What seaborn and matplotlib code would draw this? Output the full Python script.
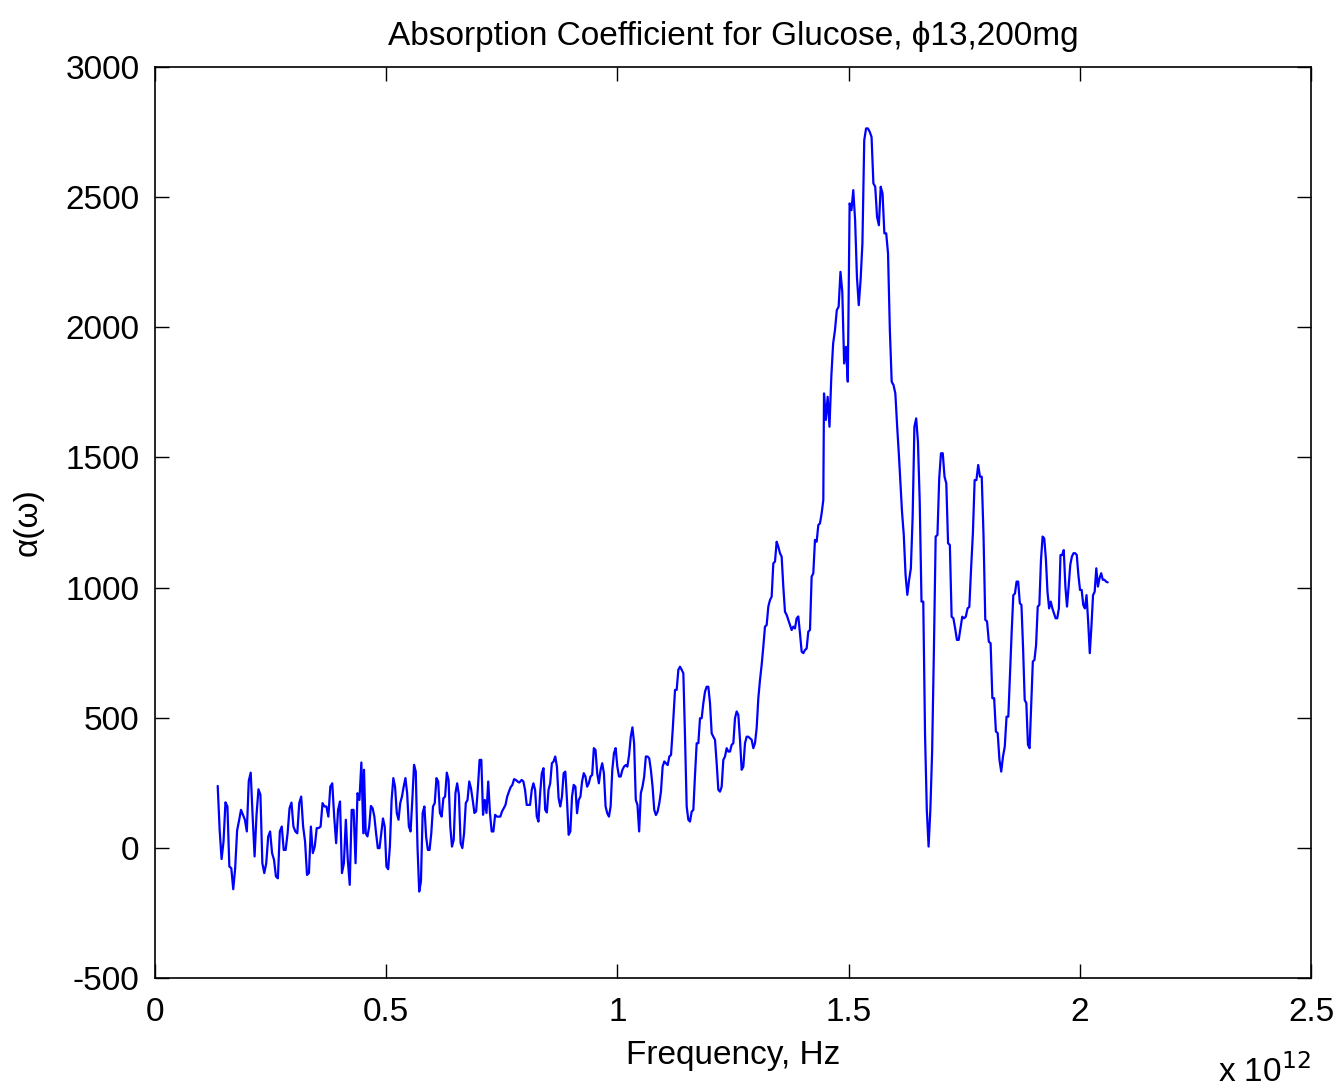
import numpy as np
import pandas as pd
import matplotlib
matplotlib.use("Agg")
import matplotlib.pyplot as plt
import seaborn as sns
from matplotlib import font_manager

# ---- data (frequency in units of 1e12 Hz, alpha values) ----
seg1_range = (0.1356, 0.4505)
seg1_vals = [238, 69, -43, 24, 175, 159, -72, -78, -159, -78, 67, 105, 146, 127, 108, 63,
             257, 289, 120, -33, 127, 225, 204, -59, -97, -59, 43, 63, -20, -46, -110, -117,
             63, 82, -8, -8, 56, 152, 174, 82, 63, 56, 172, 197, 82, 24, -104, -97, 82, -20,
             5, 76, 76, 82, 172, 159, 159, 120, 235, 248, 120, 18, 146, 178, -97, -59, 108,
             -46, -142, 146, 146, -59, 210, 184, 328, 56]
seg2_range = (0.452, 0.7878)
seg2_vals = [300, 56, 44, 82, 161, 152, 120, 56, -1, -1, 56, 113, 82, -72, -82, 5, 184, 268,
             235, 134, 108, 172, 197, 235, 268, 210, 82, 63, 184, 319, 293, 5, -168, -129, 134,
             159, 43, -8, -8, 56, 159, 172, 268, 255, 134, 120, 190, 197, 289, 261, 82, 5, 31,
             210, 248, 204, 18, -1, 56, 172, 184, 255, 229, 184, 134, 140, 229, 338, 338, 127,
             184, 134, 255, 134, 63, 63, 127, 120, 120, 120, 140, 152, 165, 197, 216, 233, 242,
             264, 261, 255, 251]
seg3_range = (0.7930, 1.1196)
seg3_vals = [261, 255, 223, 165, 165, 165, 223, 248, 223, 120, 101, 210, 287, 306, 146, 136,
             223, 248, 325, 332, 351, 312, 191, 159, 197, 287, 293, 184, 50, 63, 197, 242, 235,
             133, 184, 197, 255, 287, 274, 235, 248, 274, 280, 383, 376, 287, 248, 299, 325,
             287, 159, 133, 120, 159, 299, 364, 383, 312, 274, 274, 299, 312, 318, 312, 357,
             427, 463, 402, 184, 165, 63, 210, 235, 274, 351, 351, 344, 299, 235, 146, 126, 139,
             171, 216, 312, 332, 325, 318, 351, 357, 453]
seg4_range = (1.1246, 1.4453)
seg4_vals = [607, 607, 684, 696, 684, 671, 427, 159, 108, 101, 139, 146, 280, 402, 402, 498,
             498, 556, 600, 619, 619, 556, 440, 427, 415, 325, 223, 216, 235, 338, 351, 383,
             370, 370, 396, 402, 498, 524, 511, 415, 300, 312, 402, 427, 427, 421, 415, 383,
             402, 460, 575, 645, 703, 773, 850, 856, 927, 952, 965, 1093, 1100, 1176, 1157,
             1132, 1119, 1003, 907, 895, 876, 856, 837, 850, 843, 882, 889, 824, 754, 748, 760,
             766, 831, 837, 1042, 1055, 1183, 1176, 1240, 1247, 1285, 1336]
seg5_range = (1.4468, 1.6090)
seg5_vals = [1746, 1644, 1733, 1618, 1810, 1938, 1989, 2066, 2079, 2213, 2136, 1861, 1925,
             1791, 2476, 2450, 2527, 2412, 2194, 2085, 2181, 2322, 2719, 2764, 2764, 2751, 2731,
             2553, 2540, 2424, 2392, 2540, 2514, 2361, 2361, 2284, 1989, 1791, 1778, 1746, 1618,
             1503]
seg6_range = (1.6155, 1.8454)
seg6_vals = [1291, 1202, 1049, 972, 1029, 1074, 1272, 1618, 1650, 1560, 1330, 946, 946, 434,
             146, 5, 146, 370, 760, 1196, 1202, 1420, 1516, 1516, 1426, 1400, 1170, 1164, 888,
             882, 843, 799, 799, 843, 888, 882, 888, 920, 926, 1074, 1208, 1413, 1413, 1471,
             1426, 1426, 1202, 876, 870, 792, 786, 575, 575, 447, 441, 338, 293, 351, 389, 504,
             504]
seg7_range = (1.8527, 2.0603)
seg7_vals = [831, 971, 977, 1023, 1023, 940, 933, 767, 568, 556, 396, 383, 549, 716, 722, 780,
             927, 933, 1106, 1196, 1189, 1112, 984, 920, 946, 920, 901, 882, 882, 920, 1125,
             1125, 1144, 1004, 927, 1004, 1087, 1119, 1132, 1132, 1125, 1048, 991, 991, 933,
             920, 971, 869, 748, 850, 971, 984, 1074, 1004, 1036, 1055, 1030, 1030, 1023, 1020]

segments = [(seg1_range, seg1_vals), (seg2_range, seg2_vals), (seg3_range, seg3_vals),
            (seg4_range, seg4_vals), (seg5_range, seg5_vals), (seg6_range, seg6_vals),
            (seg7_range, seg7_vals)]

xticks = [0, 0.5, 1, 1.5, 2, 2.5]
xticklabels = ["0", "0.5", "1", "1.5", "2", "2.5"]
yticks = [-500, 0, 500, 1000, 1500, 2000, 2500, 3000]
yticklabels = ["-500", "0", "500", "1000", "1500", "2000", "2500", "3000"]
title = "Absorption Coefficient for Glucose, \u03d513,200mg"

freq = np.concatenate([np.linspace(r[0], r[1], len(v)) for r, v in segments])
alpha = np.concatenate([np.asarray(v, dtype=float) for r, v in segments])
df = pd.DataFrame({"freq": freq, "alpha": alpha})

sns.set_theme(style="white")
available = {f.name for f in font_manager.fontManager.ttflist}
fam = [f for f in ["Liberation Sans Narrow", "Liberation Sans", "DejaVu Sans"] if f in available]
plt.rcParams["font.family"] = fam
plt.rcParams["text.color"] = "black"
plt.rcParams["axes.labelcolor"] = "black"

fs = 24
fig = plt.figure(figsize=(13.39, 10.88), dpi=100)
ax = fig.add_axes([155 / 1339, 1 - 978 / 1088, (1311 - 155) / 1339, (978 - 67) / 1088])
sns.lineplot(data=df, x="freq", y="alpha", ax=ax, color=(0, 0, 1), linewidth=1.6,
             estimator=None, sort=False)

ax.set_xlim(0, 2.5)
ax.set_ylim(-500, 3000)
ax.set_xticks(xticks)
ax.set_xticklabels(xticklabels)
ax.set_yticks(yticks)
ax.set_yticklabels(yticklabels)
for s in ax.spines.values():
    s.set_visible(True)
    s.set_color("black")
    s.set_linewidth(1.2)
ax.tick_params(direction="in", length=10, width=1.0, colors="black", labelsize=fs,
               labelcolor="black", top=True, right=True, bottom=True, left=True, pad=11)
ax.tick_params(axis="x", pad=14)
ax.set_xlabel("Frequency, Hz", fontsize=fs, labelpad=8, color="black")
ax.set_ylabel("\u03b1(\u03c9)", fontsize=fs, labelpad=16, color="black")
ax.set_title(title, fontsize=fs, pad=16, color="black")
ax.grid(False)
fig.text(1218 / 1339, 1 - 1072 / 1088, "x 10$^{12}$", fontsize=fs, ha="left", va="center",
         color="black")

fig.savefig("out.png", dpi=100, facecolor="white")
